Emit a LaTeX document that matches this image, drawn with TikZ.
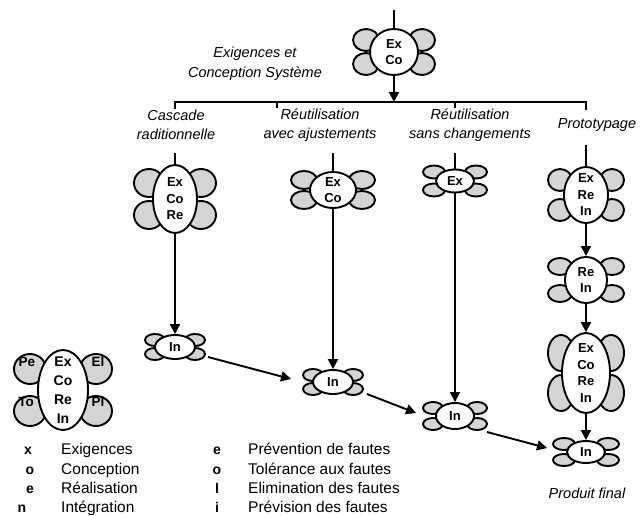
\documentclass[tikz,border=0pt]{standalone}
\usepackage{fontspec}
\setmainfont{Liberation Sans}
\usetikzlibrary{arrows.meta,shapes.geometric}

% fleur : #1 options du coeur, #2 nom, #3 centre, #4 #5 decalage des petales, #6 #7 rayons des petales, #8 texte
\newcommand{\fleur}[8]{%
  \begin{scope}[shift={#3}]
    \draw[petale] (-#4,-#5) ellipse [x radius=#6pt,y radius=#7pt];
    \draw[petale] (#4,-#5) ellipse [x radius=#6pt,y radius=#7pt];
    \draw[petale] (-#4,#5) ellipse [x radius=#6pt,y radius=#7pt];
    \draw[petale] (#4,#5) ellipse [x radius=#6pt,y radius=#7pt];
  \end{scope}
  \node[coeur,#1] (#2) at #3 {#8};%
}

\begin{document}
\begin{tikzpicture}[x=1pt,y=-1pt,
    petale/.style={draw,fill=black!17,line width=1.9pt},
    coeur/.style={draw,ellipse,fill=white,line width=1.9pt,inner sep=-10pt,
        align=center,font=\bfseries\fontsize{13}{16.5}\selectfont},
    trait/.style={line width=1.9pt},
    fleche/.style={-{Triangle[length=10pt,width=10pt]},line width=1.9pt},
    titre/.style={align=center,font=\itshape\fontsize{14.5}{19.5}\selectfont},
    petit/.style={inner sep=0pt,font=\bfseries\fontsize{13.5}{15}\selectfont},
    lettre/.style={anchor=base,inner sep=0pt,font=\bfseries\fontsize{14}{16}\selectfont},
    legende/.style={anchor=base west,inner sep=0pt,font=\fontsize{15.5}{17}\selectfont}
]
\useasboundingbox (0,0) rectangle (641,516);

% exigences et conception systeme
\fleur{minimum width=48pt,minimum height=46pt}{sys}{(394,52)}{28}{12}{13}{11}{Ex\\Co}
\node[titre] (tsys) at (255,64) {Exigences et\\Conception Système};
\coordinate (entree) at (394,10);
\coordinate (barreH) at (394,102);
\coordinate (barreG) at (175,109);
\coordinate (barreD) at (586,110);
\coordinate (tic2) at (277,108);
\coordinate (tic3) at (455,108);
\draw[trait] (entree) -- (sys);
\draw[fleche] (sys) -- (barreH);
\draw[trait] (barreG) -- ++(0,-7) -| (barreD);
\draw[trait] (tic2) -- ++(0,-6);
\draw[trait] (tic3) -- ++(0,-6);

% les quatre chemins
\node[titre] (tcasc) at (176,125) {Cascade\\raditionnelle};
\node[titre] (tajus) at (320,125) {Réutilisation\\avec ajustements};
\node[titre] (tsans) at (470,125) {Réutilisation\\sans changements};
\node[titre] (tproto) at (597,125) {Prototypage};

\fleur{minimum width=44pt,minimum height=68pt}{casc}{(175,199)}{26}{16}{15}{14}{Ex\\Co\\Re}
\fleur{minimum width=46pt,minimum height=36pt}{ajus}{(333,190)}{29}{10}{13}{9}{Ex\\Co}
\fleur{minimum width=38pt,minimum height=23pt}{sans}{(455,181)}{21}{9}{11}{6.5}{Ex}
\fleur{minimum width=44pt,minimum height=56pt}{proto}{(586,195)}{26}{15}{12}{11}{Ex\\Re\\In}
\fleur{minimum width=42pt,minimum height=46pt}{reint}{(586,280)}{26}{13.5}{12}{8.5}{Re\\In}
\fleur{minimum width=48pt,minimum height=80pt}{complet}{(586,373)}{25}{20}{13}{18}{Ex\\Co\\Re\\In}

\fleur{minimum width=40pt,minimum height=24pt}{in1}{(175,347)}{20}{7}{10}{6}{In}
\fleur{minimum width=40pt,minimum height=24pt}{in2}{(333,382)}{20}{7}{10}{6}{In}
\fleur{minimum width=38pt,minimum height=26pt}{in3}{(455,416)}{22}{8}{10}{6}{In}
\fleur{minimum width=38pt,minimum height=22pt}{final}{(586,452)}{22}{8}{11}{6}{In}
\node[titre] (tfinal) at (587,493) {Produit final};

\coordinate (dep1) at (175,153);
\coordinate (dep2) at (333,153);
\coordinate (dep3) at (455,153);
\coordinate (dep4) at (586,145);
\draw[trait] (dep1) -- (casc);
\draw[trait] (dep2) -- (ajus);
\draw[trait] (dep3) -- (sans);
\draw[trait] (dep4) -- (proto);
\draw[fleche] (casc) -- (in1);
\draw[fleche] (ajus) -- (in2);
\draw[fleche] (sans) -- (in3);
\draw[fleche] (proto) -- (reint);
\draw[fleche] (reint) -- (complet);
\draw[fleche] (complet) -- (final);
\draw[fleche] ([shift={(12,10)}]in1.east) -- ([shift={(-21,-3)}]in2.west);
\draw[fleche] ([shift={(13,12)}]in2.east) -- ([shift={(-19,-3)}]in3.west);
\draw[fleche] ([shift={(12,16)}]in3.east) -- ([shift={(-19,-4)}]final.west);

% legende
\fleur{minimum width=50pt,minimum height=80pt,font=\bfseries\fontsize{14}{19}\selectfont}{cle}{(63,390)}{33}{21}{16}{15}{Ex\\Co\\Re\\In}
\node[petit] (pe) at (27,362) {Pe};
\node[petit] (el) at (98,362) {El};
\node[petit] (to) at (26,402) {To};
\node[petit] (pl) at (98,402) {Pl};

\node[lettre] (lx) at (28,454) {x};
\node[lettre] (lo) at (30,474) {o};
\node[lettre] (le) at (30,493) {e};
\node[lettre] (ln) at (22,512) {n};
\node[legende] (lexig) at (61,454) {Exigences};
\node[legende] (lconc) at (61,474) {Conception};
\node[legende] (lreal) at (61,493) {Réalisation};
\node[legende] (linte) at (61,512) {Intégration};

\node[lettre] (re) at (217,454) {e};
\node[legende] (rprev) at (248,454) {Prévention de fautes};
\node[lettre] (ro) at (217,474) {o};
\node[legende] (rtol) at (248,474) {Tolérance aux fautes};
\node[lettre] (rl) at (217,493) {l};
\node[legende] (relim) at (248,493) {Elimination des fautes};
\node[lettre] (ri) at (217,512) {i};
\node[legende] (rpvs) at (248,512) {Prévision des fautes};
\end{tikzpicture}
\end{document}
